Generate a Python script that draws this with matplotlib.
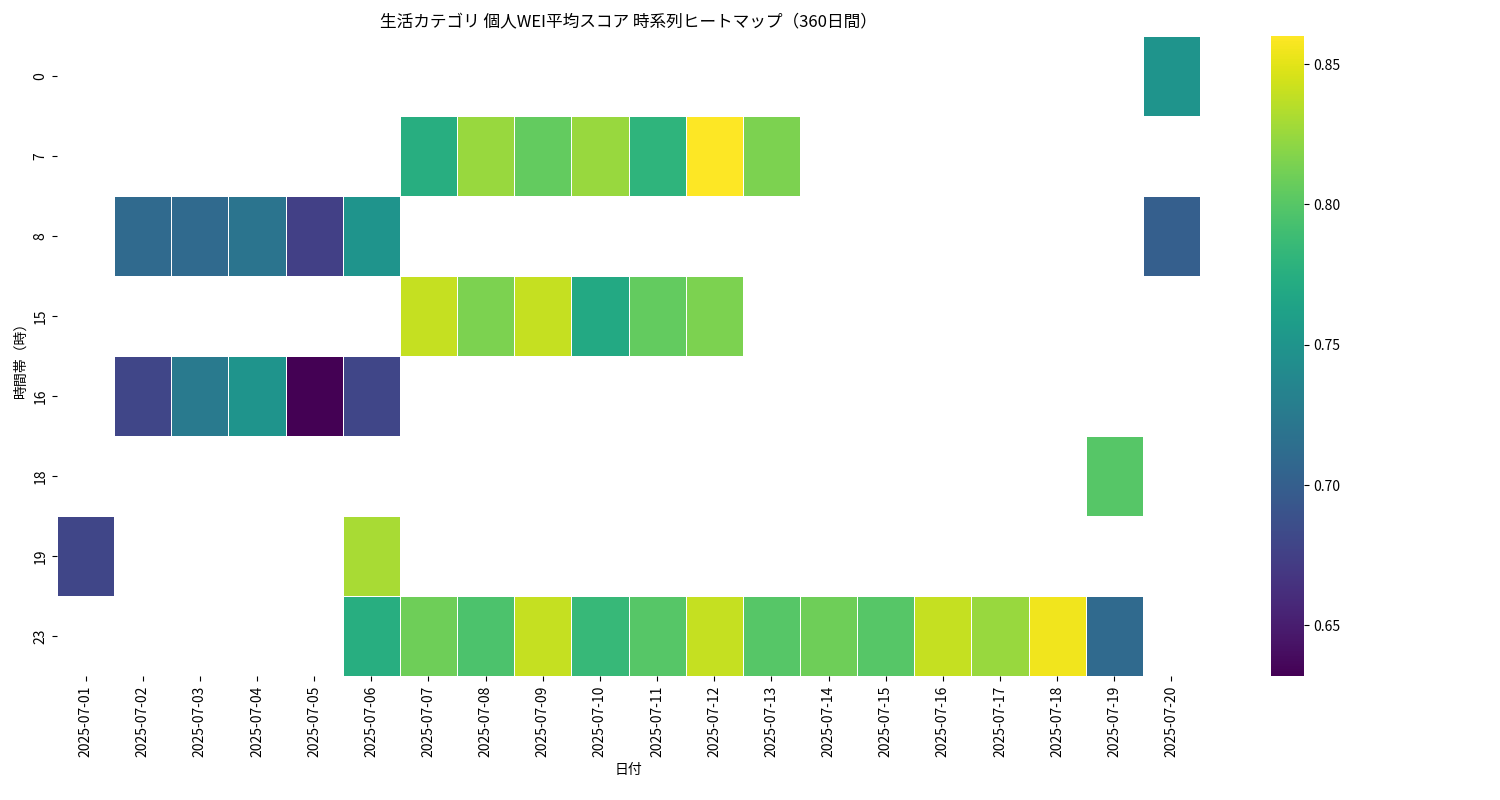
import numpy as np
import pandas as pd
import matplotlib
matplotlib.use("Agg")
import matplotlib.pyplot as plt
import seaborn as sns

plt.rcParams["font.family"] = "Noto Sans CJK JP"

dates = [f"2025-07-{d:02d}" for d in range(1, 21)]
hours = [0, 7, 8, 15, 16, 18, 19, 23]

# (hour, date index 1-based) -> score
hour_0 = {20: 0.750}
hour_7 = {7: 0.775, 8: 0.825, 9: 0.805, 10: 0.825, 11: 0.780, 12: 0.860, 13: 0.815}
hour_8 = {2: 0.710, 3: 0.710, 4: 0.720, 5: 0.675, 6: 0.750, 20: 0.700}
hour_15 = {7: 0.840, 8: 0.815, 9: 0.840, 10: 0.770, 11: 0.805, 12: 0.815}
hour_16 = {2: 0.680, 3: 0.725, 4: 0.750, 5: 0.632, 6: 0.680}
hour_18 = {19: 0.800}
hour_19 = {1: 0.680, 6: 0.830}
hour_23 = {6: 0.775, 7: 0.810, 8: 0.795, 9: 0.840, 10: 0.785, 11: 0.800,
           12: 0.840, 13: 0.800, 14: 0.810, 15: 0.800, 16: 0.840, 17: 0.825,
           18: 0.855, 19: 0.710}

rows = [hour_0, hour_7, hour_8, hour_15, hour_16, hour_18, hour_19, hour_23]
grid = np.full((len(hours), len(dates)), np.nan)
for i, r in enumerate(rows):
    for d, v in r.items():
        grid[i, d - 1] = v
df = pd.DataFrame(grid, index=hours, columns=dates)

fig = plt.figure(figsize=(15, 8), dpi=100)
ax = fig.add_axes([0.038, 0.155, 0.762, 0.8])
cax = fig.add_axes([0.847, 0.155, 0.022, 0.8])
sns.heatmap(df, cmap="viridis", linewidths=0.5, linecolor="white",
            ax=ax, cbar_ax=cax)
ax.set_title("生活カテゴリ 個人WEI平均スコア 時系列ヒートマップ（360日間）", fontsize=12)
ax.set_xlabel("日付")
ax.set_ylabel("時間帯（時）")
ax.set_xticklabels(dates, rotation=90)
ax.set_yticklabels(hours, rotation=90, va="center")
fig.savefig("out.png")
